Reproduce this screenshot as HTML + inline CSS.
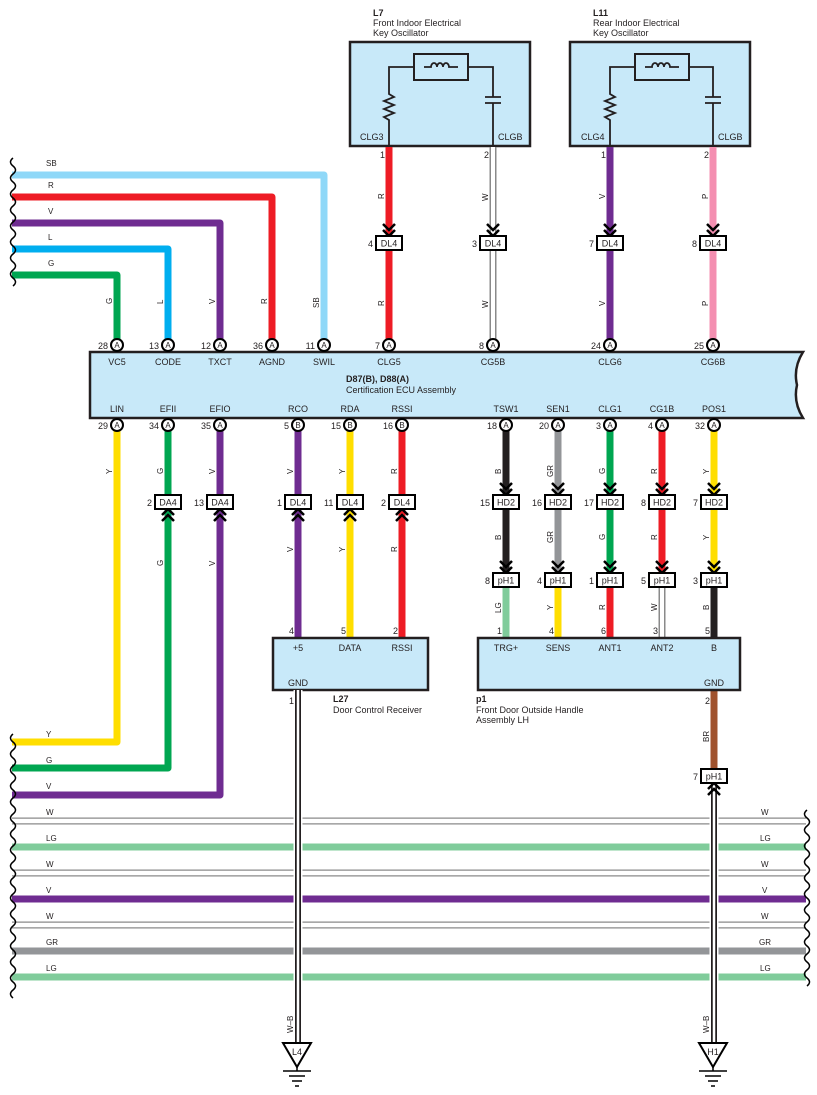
<!DOCTYPE html>
<html><head><meta charset="utf-8"><style>
html,body{margin:0;padding:0;background:#fff;}
svg{display:block;font-family:"Liberation Sans",Arial,sans-serif;}
.t{font-size:9px;fill:#231f20;}
.b{font-size:9px;font-weight:bold;fill:#231f20;}
.wl{font-size:8px;fill:#231f20;}
</style></head><body>
<svg width="817" height="1095" viewBox="0 0 817 1095" xmlns="http://www.w3.org/2000/svg">
<defs>
<g id="chd"><polyline points="-6,-19 0,-13 6,-19" fill="none" stroke="#000" stroke-width="2.5"/><polyline points="-6,-13 0,-7 6,-13" fill="none" stroke="#000" stroke-width="2.5"/></g>
<g id="chu"><polyline points="-6,19 0,13 6,19" fill="none" stroke="#000" stroke-width="2.5"/><polyline points="-6,13 0,7 6,13" fill="none" stroke="#000" stroke-width="2.5"/></g>
</defs>

<text class="b" x="373" y="16">L7</text>
<text class="t" x="373" y="26">Front Indoor Electrical</text>
<text class="t" x="373" y="36">Key Oscillator</text>
<rect x="350" y="42" width="180" height="104" fill="#c8e9f9" stroke="#231f20" stroke-width="2.5"/>
<rect x="414" y="54" width="54" height="26" fill="none" stroke="#231f20" stroke-width="2"/>
<path d="M389,146 V120 l-5,-3 10,-4 -10,-4 10,-4 -10,-4 10,-4 -5,-3 V67 H414 M468,67 H493 V97 M485,97 H501 M485,103 H501 M493,103 V146" fill="none" stroke="#231f20" stroke-width="1.8"/>
<path d="M424,67 H431 a3,4 0 1 1 6,0 a3,4 0 1 1 6,0 a3,4 0 1 1 6,0 H458" fill="none" stroke="#231f20" stroke-width="1.8"/>
<text class="t" x="360" y="140">CLG3</text>
<text class="t" x="498" y="140">CLGB</text>

<text class="b" x="593" y="16">L11</text>
<text class="t" x="593" y="26">Rear Indoor Electrical</text>
<text class="t" x="593" y="36">Key Oscillator</text>
<rect x="570" y="42" width="180" height="104" fill="#c8e9f9" stroke="#231f20" stroke-width="2.5"/>
<rect x="635" y="54" width="54" height="26" fill="none" stroke="#231f20" stroke-width="2"/>
<path d="M610,146 V120 l-5,-3 10,-4 -10,-4 10,-4 -10,-4 10,-4 -5,-3 V67 H635 M689,67 H713 V97 M705,97 H721 M705,103 H721 M713,103 V146" fill="none" stroke="#231f20" stroke-width="1.8"/>
<path d="M645,67 H652 a3,4 0 1 1 6,0 a3,4 0 1 1 6,0 a3,4 0 1 1 6,0 H679" fill="none" stroke="#231f20" stroke-width="1.8"/>
<text class="t" x="581" y="140">CLG4</text>
<text class="t" x="718" y="140">CLGB</text>

<line x1="389" y1="147" x2="389" y2="340" stroke="#ee1c25" stroke-width="7"/>
<line x1="493" y1="147" x2="493" y2="340" stroke="#8a8a8a" stroke-width="7"/>
<line x1="493" y1="147" x2="493" y2="340" stroke="#fff" stroke-width="4"/>
<line x1="610" y1="147" x2="610" y2="340" stroke="#6f2c91" stroke-width="7"/>
<line x1="713" y1="147" x2="713" y2="340" stroke="#f48fb1" stroke-width="7"/>
<text class="t" x="380" y="158">1</text><text class="t" x="484" y="158">2</text>
<text class="t" x="601" y="158">1</text><text class="t" x="704" y="158">2</text>
<g class="wl">
<text transform="translate(384,199) rotate(-90)">R</text>
<text transform="translate(488,201) rotate(-90)">W</text>
<text transform="translate(605,199) rotate(-90)">V</text>
<text transform="translate(708,199) rotate(-90)">P</text>
<text transform="translate(384,306) rotate(-90)">R</text>
<text transform="translate(488,308) rotate(-90)">W</text>
<text transform="translate(605,306) rotate(-90)">V</text>
<text transform="translate(708,306) rotate(-90)">P</text>
</g>
<g>
<use href="#chd" x="389" y="243"/><rect x="376" y="236" width="26" height="14" fill="#fff" stroke="#000" stroke-width="2"/><text class="t" x="389" y="246.5" text-anchor="middle">DL4</text><text class="t" x="368" y="247">4</text>
<use href="#chd" x="493" y="243"/><rect x="480" y="236" width="26" height="14" fill="#fff" stroke="#000" stroke-width="2"/><text class="t" x="493" y="246.5" text-anchor="middle">DL4</text><text class="t" x="472" y="247">3</text>
<use href="#chd" x="610" y="243"/><rect x="597" y="236" width="26" height="14" fill="#fff" stroke="#000" stroke-width="2"/><text class="t" x="610" y="246.5" text-anchor="middle">DL4</text><text class="t" x="589" y="247">7</text>
<use href="#chd" x="713" y="243"/><rect x="700" y="236" width="26" height="14" fill="#fff" stroke="#000" stroke-width="2"/><text class="t" x="713" y="246.5" text-anchor="middle">DL4</text><text class="t" x="692" y="247">8</text>
</g>

<g fill="none" stroke-width="7" stroke-linejoin="round">
<path d="M12,175 H324 V340" stroke="#8fd8f8"/>
<path d="M12,197 H272 V340" stroke="#ee1c25"/>
<path d="M12,223 H220 V340" stroke="#6f2c91"/>
<path d="M12,249 H168 V340" stroke="#00aeef"/>
<path d="M12,275 H117 V340" stroke="#00a651"/>
</g>
<path d="M13,158 q-5,4 0,8 q5,4 0,8 q-5,4 0,8 q5,4 0,8 q-5,4 0,8 q5,4 0,8 q-5,4 0,8 q5,4 0,8 q-5,4 0,8 q5,4 0,8 q-5,4 0,8 q5,4 0,8 q-5,4 0,8 q5,4 0,8 q-5,4 0,8 q5,4 0,8" fill="none" stroke="#000" stroke-width="1.5"/>
<g class="wl">
<text x="46" y="166">SB</text><text x="48" y="188">R</text><text x="48" y="214">V</text><text x="48" y="240">L</text><text x="48" y="266">G</text>
<text transform="translate(112,304) rotate(-90)">G</text>
<text transform="translate(163,304) rotate(-90)">L</text>
<text transform="translate(215,304) rotate(-90)">V</text>
<text transform="translate(267,304) rotate(-90)">R</text>
<text transform="translate(319,308) rotate(-90)">SB</text>
</g>

<path d="M90,352 H803 Q793,368 797,385 Q793,402 803,418 H90 Z" fill="#c8e9f9" stroke="#231f20" stroke-width="2.5"/>
<g class="t" text-anchor="middle">
<text x="117" y="365">VC5</text><text x="168" y="365">CODE</text><text x="220" y="365">TXCT</text><text x="272" y="365">AGND</text><text x="324" y="365">SWIL</text><text x="389" y="365">CLG5</text><text x="493" y="365">CG5B</text><text x="610" y="365">CLG6</text><text x="713" y="365">CG6B</text>
<text x="117" y="412">LIN</text><text x="168" y="412">EFII</text><text x="220" y="412">EFIO</text><text x="298" y="412">RCO</text><text x="350" y="412">RDA</text><text x="402" y="412">RSSI</text><text x="506" y="412">TSW1</text><text x="558" y="412">SEN1</text><text x="610" y="412">CLG1</text><text x="662" y="412">CG1B</text><text x="714" y="412">POS1</text>
</g>
<text class="b" x="346" y="382">D87(B), D88(A)</text>
<text class="t" x="346" y="393">Certification ECU Assembly</text>

<g fill="none" stroke-width="7" stroke-linejoin="round">
<path d="M117,430 V742 H12" stroke="#ffde00"/>
<path d="M168,430 V768 H12" stroke="#00a651"/>
<path d="M220,430 V795 H12" stroke="#6f2c91"/>
<path d="M298,430 V638" stroke="#6f2c91"/>
<path d="M350,430 V638" stroke="#ffde00"/>
<path d="M402,430 V638" stroke="#ee1c25"/>
<path d="M506,430 V580" stroke="#231f20"/>
<path d="M558,430 V580" stroke="#939598"/>
<path d="M610,430 V638" stroke="#00a651"/>
<path d="M662,430 V580" stroke="#ee1c25"/>
<path d="M714,430 V580" stroke="#ffde00"/>
<path d="M506,580 V638" stroke="#80cc9b"/>
<path d="M558,580 V638" stroke="#ffde00"/>
<path d="M610,580 V638" stroke="#ee1c25"/>
<path d="M662,580 V638" stroke="#8a8a8a"/>
<path d="M714,580 V638" stroke="#231f20"/>
<path d="M714,690 V776" stroke="#a0522d"/>
</g>
<line x1="662" y1="587" x2="662" y2="638" stroke="#fff" stroke-width="4"/>

<g fill="#fff" stroke="#000" stroke-width="2">
<circle cx="117" cy="345" r="6"/><circle cx="168" cy="345" r="6"/><circle cx="220" cy="345" r="6"/><circle cx="272" cy="345" r="6"/><circle cx="324" cy="345" r="6"/><circle cx="389" cy="345" r="6"/><circle cx="493" cy="345" r="6"/><circle cx="610" cy="345" r="6"/><circle cx="713" cy="345" r="6"/>
<circle cx="117" cy="425" r="6"/><circle cx="168" cy="425" r="6"/><circle cx="220" cy="425" r="6"/><circle cx="298" cy="425" r="6"/><circle cx="350" cy="425" r="6"/><circle cx="402" cy="425" r="6"/><circle cx="506" cy="425" r="6"/><circle cx="558" cy="425" r="6"/><circle cx="610" cy="425" r="6"/><circle cx="662" cy="425" r="6"/><circle cx="714" cy="425" r="6"/>
</g>
<g class="t" style="font-size:8px" text-anchor="middle">
<text x="117" y="348">A</text><text x="168" y="348">A</text><text x="220" y="348">A</text><text x="272" y="348">A</text><text x="324" y="348">A</text><text x="389" y="348">A</text><text x="493" y="348">A</text><text x="610" y="348">A</text><text x="713" y="348">A</text>
<text x="117" y="428">A</text><text x="168" y="428">A</text><text x="220" y="428">A</text><text x="298" y="428">B</text><text x="350" y="428">B</text><text x="402" y="428">B</text><text x="506" y="428">A</text><text x="558" y="428">A</text><text x="610" y="428">A</text><text x="662" y="428">A</text><text x="714" y="428">A</text>
</g>
<g class="t" text-anchor="end">
<text x="108" y="349">28</text><text x="159" y="349">13</text><text x="211" y="349">12</text><text x="263" y="349">36</text><text x="315" y="349">11</text><text x="380" y="349">7</text><text x="484" y="349">8</text><text x="601" y="349">24</text><text x="704" y="349">25</text>
<text x="108" y="429">29</text><text x="159" y="429">34</text><text x="211" y="429">35</text><text x="289" y="429">5</text><text x="341" y="429">15</text><text x="393" y="429">16</text><text x="497" y="429">18</text><text x="549" y="429">20</text><text x="601" y="429">3</text><text x="653" y="429">4</text><text x="705" y="429">32</text>
</g>

<g class="wl">
<text transform="translate(112,474) rotate(-90)">Y</text>
<text transform="translate(163,474) rotate(-90)">G</text>
<text transform="translate(215,474) rotate(-90)">V</text>
<text transform="translate(293,474) rotate(-90)">V</text>
<text transform="translate(345,474) rotate(-90)">Y</text>
<text transform="translate(397,474) rotate(-90)">R</text>
<text transform="translate(501,474) rotate(-90)">B</text>
<text transform="translate(553,477) rotate(-90)">GR</text>
<text transform="translate(605,474) rotate(-90)">G</text>
<text transform="translate(657,474) rotate(-90)">R</text>
<text transform="translate(709,474) rotate(-90)">Y</text>
<text transform="translate(163,566) rotate(-90)">G</text>
<text transform="translate(215,566) rotate(-90)">V</text>
<text transform="translate(293,552) rotate(-90)">V</text>
<text transform="translate(345,552) rotate(-90)">Y</text>
<text transform="translate(397,552) rotate(-90)">R</text>
<text transform="translate(501,540) rotate(-90)">B</text>
<text transform="translate(553,543) rotate(-90)">GR</text>
<text transform="translate(605,540) rotate(-90)">G</text>
<text transform="translate(657,540) rotate(-90)">R</text>
<text transform="translate(709,540) rotate(-90)">Y</text>
<text transform="translate(501,613) rotate(-90)">LG</text>
<text transform="translate(553,610) rotate(-90)">Y</text>
<text transform="translate(605,610) rotate(-90)">R</text>
<text transform="translate(657,611) rotate(-90)">W</text>
<text transform="translate(709,610) rotate(-90)">B</text>
<text transform="translate(709,742) rotate(-90)">BR</text>
</g>

<g>
<use href="#chu" x="168" y="502"/><rect x="155" y="495" width="26" height="14" fill="#fff" stroke="#000" stroke-width="2"/><text class="t" x="168" y="505.5" text-anchor="middle">DA4</text><text class="t" x="147" y="506">2</text>
<use href="#chu" x="220" y="502"/><rect x="207" y="495" width="26" height="14" fill="#fff" stroke="#000" stroke-width="2"/><text class="t" x="220" y="505.5" text-anchor="middle">DA4</text><text class="t" x="194" y="506">13</text>
<use href="#chu" x="298" y="502"/><rect x="285" y="495" width="26" height="14" fill="#fff" stroke="#000" stroke-width="2"/><text class="t" x="298" y="505.5" text-anchor="middle">DL4</text><text class="t" x="277" y="506">1</text>
<use href="#chu" x="350" y="502"/><rect x="337" y="495" width="26" height="14" fill="#fff" stroke="#000" stroke-width="2"/><text class="t" x="350" y="505.5" text-anchor="middle">DL4</text><text class="t" x="324" y="506">11</text>
<use href="#chu" x="402" y="502"/><rect x="389" y="495" width="26" height="14" fill="#fff" stroke="#000" stroke-width="2"/><text class="t" x="402" y="505.5" text-anchor="middle">DL4</text><text class="t" x="381" y="506">2</text>

<use href="#chd" x="506" y="502"/><rect x="493" y="495" width="26" height="14" fill="#fff" stroke="#000" stroke-width="2"/><text class="t" x="506" y="505.5" text-anchor="middle">HD2</text><text class="t" x="480" y="506">15</text>
<use href="#chd" x="558" y="502"/><rect x="545" y="495" width="26" height="14" fill="#fff" stroke="#000" stroke-width="2"/><text class="t" x="558" y="505.5" text-anchor="middle">HD2</text><text class="t" x="532" y="506">16</text>
<use href="#chd" x="610" y="502"/><rect x="597" y="495" width="26" height="14" fill="#fff" stroke="#000" stroke-width="2"/><text class="t" x="610" y="505.5" text-anchor="middle">HD2</text><text class="t" x="584" y="506">17</text>
<use href="#chd" x="662" y="502"/><rect x="649" y="495" width="26" height="14" fill="#fff" stroke="#000" stroke-width="2"/><text class="t" x="662" y="505.5" text-anchor="middle">HD2</text><text class="t" x="641" y="506">8</text>
<use href="#chd" x="714" y="502"/><rect x="701" y="495" width="26" height="14" fill="#fff" stroke="#000" stroke-width="2"/><text class="t" x="714" y="505.5" text-anchor="middle">HD2</text><text class="t" x="693" y="506">7</text>

<use href="#chd" x="506" y="580"/><rect x="493" y="573" width="26" height="14" fill="#fff" stroke="#000" stroke-width="2"/><text class="t" x="506" y="583.5" text-anchor="middle">pH1</text><text class="t" x="485" y="584">8</text>
<use href="#chd" x="558" y="580"/><rect x="545" y="573" width="26" height="14" fill="#fff" stroke="#000" stroke-width="2"/><text class="t" x="558" y="583.5" text-anchor="middle">pH1</text><text class="t" x="537" y="584">4</text>
<use href="#chd" x="610" y="580"/><rect x="597" y="573" width="26" height="14" fill="#fff" stroke="#000" stroke-width="2"/><text class="t" x="610" y="583.5" text-anchor="middle">pH1</text><text class="t" x="589" y="584">1</text>
<use href="#chd" x="662" y="580"/><rect x="649" y="573" width="26" height="14" fill="#fff" stroke="#000" stroke-width="2"/><text class="t" x="662" y="583.5" text-anchor="middle">pH1</text><text class="t" x="641" y="584">5</text>
<use href="#chd" x="714" y="580"/><rect x="701" y="573" width="26" height="14" fill="#fff" stroke="#000" stroke-width="2"/><text class="t" x="714" y="583.5" text-anchor="middle">pH1</text><text class="t" x="693" y="584">3</text>
</g>

<g class="t">
<text x="289" y="634">4</text><text x="341" y="634">5</text><text x="393" y="634">2</text>
<text x="497" y="634">1</text><text x="549" y="634">4</text><text x="601" y="634">6</text><text x="653" y="634">3</text><text x="705" y="634">5</text>
<text x="289" y="704">1</text><text x="705" y="704">2</text>
</g>

<rect x="273" y="638" width="155" height="52" fill="#c8e9f9" stroke="#231f20" stroke-width="2.5"/>
<rect x="478" y="638" width="262" height="52" fill="#c8e9f9" stroke="#231f20" stroke-width="2.5"/>
<g class="t" text-anchor="middle">
<text x="298" y="651">+5</text><text x="350" y="651">DATA</text><text x="402" y="651">RSSI</text><text x="298" y="686">GND</text>
<text x="506" y="651">TRG+</text><text x="558" y="651">SENS</text><text x="610" y="651">ANT1</text><text x="662" y="651">ANT2</text><text x="714" y="651">B</text><text x="714" y="686">GND</text>
</g>
<text class="b" x="333" y="702">L27</text>
<text class="t" x="333" y="713">Door Control Receiver</text>
<text class="b" x="476" y="702">p1</text>
<text class="t" x="476" y="713">Front Door Outside Handle</text>
<text class="t" x="476" y="723">Assembly LH</text>

<g stroke-width="7">
<line x1="12" y1="821" x2="806" y2="821" stroke="#8a8a8a"/><line x1="12" y1="821" x2="806" y2="821" stroke="#fff" stroke-width="4.5"/>
<line x1="12" y1="847" x2="806" y2="847" stroke="#80cc9b"/>
<line x1="12" y1="873" x2="806" y2="873" stroke="#8a8a8a"/><line x1="12" y1="873" x2="806" y2="873" stroke="#fff" stroke-width="4.5"/>
<line x1="12" y1="899" x2="806" y2="899" stroke="#6f2c91"/>
<line x1="12" y1="925" x2="806" y2="925" stroke="#8a8a8a"/><line x1="12" y1="925" x2="806" y2="925" stroke="#fff" stroke-width="4.5"/>
<line x1="12" y1="951" x2="806" y2="951" stroke="#939598"/>
<line x1="12" y1="977" x2="806" y2="977" stroke="#80cc9b"/>
</g>
<g class="wl">
<text x="46" y="737">Y</text><text x="46" y="763">G</text><text x="46" y="789">V</text>
<text x="46" y="815">W</text><text x="46" y="841">LG</text><text x="46" y="867">W</text><text x="46" y="893">V</text><text x="46" y="919">W</text><text x="46" y="945">GR</text><text x="46" y="971">LG</text>
<text x="761" y="815">W</text><text x="760" y="841">LG</text><text x="761" y="867">W</text><text x="762" y="893">V</text><text x="761" y="919">W</text><text x="759" y="945">GR</text><text x="760" y="971">LG</text>
</g>
<path d="M13,734 q-5,4 0,8 q5,4 0,8 q-5,4 0,8 q5,4 0,8 q-5,4 0,8 q5,4 0,8 q-5,4 0,8 q5,4 0,8 q-5,4 0,8 q5,4 0,8 q-5,4 0,8 q5,4 0,8 q-5,4 0,8 q5,4 0,8 q-5,4 0,8 q5,4 0,8 q-5,4 0,8 q5,4 0,8 q-5,4 0,8 q5,4 0,8 q-5,4 0,8 q5,4 0,8 q-5,4 0,8 q5,4 0,8 q-5,4 0,8 q5,4 0,8 q-5,4 0,8 q5,4 0,8 q-5,4 0,8 q5,4 0,8 q-5,4 0,8 q5,4 0,8 q-5,4 0,8" fill="none" stroke="#000" stroke-width="1.5"/>
<path d="M807,810 q-5,4 0,8 q5,4 0,8 q-5,4 0,8 q5,4 0,8 q-5,4 0,8 q5,4 0,8 q-5,4 0,8 q5,4 0,8 q-5,4 0,8 q5,4 0,8 q-5,4 0,8 q5,4 0,8 q-5,4 0,8 q5,4 0,8 q-5,4 0,8 q5,4 0,8 q-5,4 0,8 q5,4 0,8 q-5,4 0,8 q5,4 0,8 q-5,4 0,8 q5,4 0,8" fill="none" stroke="#000" stroke-width="1.5"/>

<line x1="298" y1="690" x2="298" y2="1042" stroke="#fff" stroke-width="9"/>
<line x1="298" y1="690" x2="298" y2="1042" stroke="#231f20" stroke-width="6"/>
<line x1="298" y1="690" x2="298" y2="1042" stroke="#fff" stroke-width="2.5"/>
<line x1="714" y1="784" x2="714" y2="1042" stroke="#fff" stroke-width="9"/>
<line x1="714" y1="784" x2="714" y2="1042" stroke="#231f20" stroke-width="6"/>
<line x1="714" y1="784" x2="714" y2="1042" stroke="#fff" stroke-width="2.5"/>
<use href="#chu" x="714" y="776"/>
<rect x="701" y="769" width="26" height="14" fill="#fff" stroke="#000" stroke-width="2"/><text class="t" x="714" y="779.5" text-anchor="middle">pH1</text><text class="t" x="693" y="780">7</text>
<g class="wl">
<text transform="translate(293,1033) rotate(-90)">W–B</text>
<text transform="translate(709,1033) rotate(-90)">W–B</text>
</g>
<g fill="#fff" stroke="#000" stroke-width="2">
<polygon points="283,1043 311,1043 297,1067"/>
<polygon points="699,1043 727,1043 713,1067"/>
</g>
<text class="t" x="297" y="1055" text-anchor="middle">L4</text>
<text class="t" x="713" y="1055" text-anchor="middle">H1</text>
<g stroke="#000" stroke-width="1.5">
<line x1="297" y1="1067" x2="297" y2="1071"/><line x1="283" y1="1071" x2="311" y2="1071"/><line x1="289" y1="1076" x2="305" y2="1076"/><line x1="292" y1="1081" x2="302" y2="1081"/><line x1="295" y1="1086" x2="299" y2="1086"/>
<line x1="713" y1="1067" x2="713" y2="1071"/><line x1="699" y1="1071" x2="727" y2="1071"/><line x1="705" y1="1076" x2="721" y2="1076"/><line x1="708" y1="1081" x2="718" y2="1081"/><line x1="711" y1="1086" x2="715" y2="1086"/>
</g>
</svg>
</body></html>
